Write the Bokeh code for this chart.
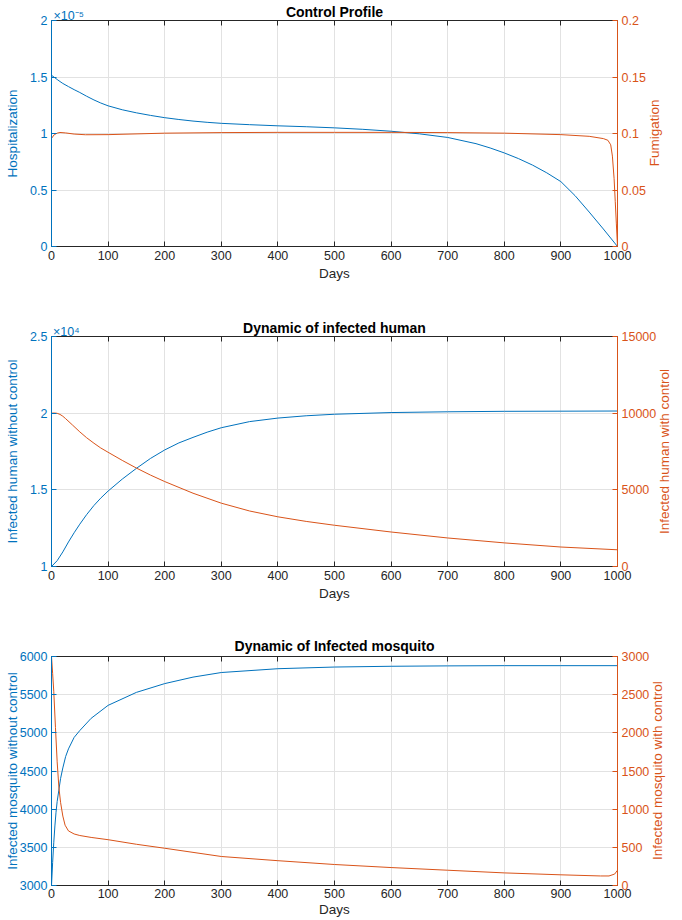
import math
from bokeh.plotting import figure
from bokeh.models import Range1d, LinearAxis, FixedTicker, CustomJSTickFormatter
from bokeh.layouts import column
from bokeh.embed import file_html
from bokeh.resources import INLINE

BLUE = "#0072BD"
ORANGE = "#D95319"
DARK = "#262626"
GRID = "#e2e2e2"
FONT = "Liberation Sans"

# ---------------- data ----------------
day_ticks = [0, 100, 200, 300, 400, 500, 600, 700, 800, 900, 1000]

# Control profile
hosp_days = [0, 5, 10, 15, 20, 30, 40, 50, 62, 75, 87, 100, 125, 150, 175, 200, 225, 250,
             275, 300, 350, 400, 450, 500, 550, 600, 650, 700, 750, 775, 800, 825, 850,
             875, 900, 925, 950, 975, 1000]
hospitalization = [1.515e-5, 1.497e-5, 1.478e-5, 1.46e-5, 1.443e-5, 1.415e-5, 1.388e-5,
                   1.363e-5, 1.33e-5, 1.297e-5, 1.27e-5, 1.245e-5, 1.21e-5, 1.183e-5,
                   1.16e-5, 1.14e-5, 1.124e-5, 1.11e-5, 1.099e-5, 1.09e-5, 1.078e-5,
                   1.068e-5, 1.06e-5, 1.05e-5, 1.037e-5, 1.02e-5, 0.997e-5, 0.965e-5,
                   0.91e-5, 0.872e-5, 0.828e-5, 0.778e-5, 0.72e-5, 0.652e-5, 0.574e-5,
                   0.45e-5, 0.305e-5, 0.155e-5, 0.0]
fum_days = [0, 5, 10, 15, 25, 40, 60, 100, 200, 300, 400, 500, 600, 700, 800, 900,
            950, 975, 983, 988, 991, 994, 996, 998, 1000]
fumigation = [0.0957, 0.099, 0.1003, 0.1009, 0.1005, 0.0995, 0.0989, 0.099, 0.1003,
              0.1008, 0.101, 0.101, 0.101, 0.1008, 0.1003, 0.099, 0.0975, 0.0955,
              0.094, 0.09, 0.08, 0.06, 0.04, 0.02, 0.0]
hosp_ticks = [0, 0.5e-5, 1e-5, 1.5e-5, 2e-5]
fum_ticks = [0, 0.05, 0.1, 0.15, 0.2]

# Infected human
ih_days = [0, 10, 20, 30, 40, 50, 62, 75, 87, 100, 125, 150, 175, 200, 225, 250, 275, 300,
           350, 400, 450, 500, 600, 700, 800, 900, 1000]
ih_no_control = [10000, 10380, 10950, 11600, 12200, 12760, 13380, 13980, 14460, 14920,
                 15700, 16400, 17050, 17600, 18060, 18420, 18760, 19050, 19450, 19680,
                 19830, 19930, 20040, 20090, 20120, 20130, 20140]
ihc_days = [0, 5, 10, 15, 20, 25, 37, 50, 62, 75, 87, 100, 125, 150, 175, 200, 250, 300,
            350, 400, 450, 500, 600, 700, 800, 900, 1000]
ih_control = [10000, 10010, 9990, 9920, 9800, 9640, 9230, 8780, 8400, 8040, 7730, 7450,
              6920, 6420, 5960, 5540, 4780, 4130, 3620, 3240, 2940, 2690, 2250, 1860,
              1540, 1270, 1090]
ih_nc_ticks = [10000, 15000, 20000, 25000]
ih_c_ticks = [0, 5000, 10000, 15000]

# Infected mosquito
im_days = [0, 2, 4, 6, 8, 10, 13, 16, 20, 25, 30, 40, 50, 70, 100, 150, 200, 250, 300,
           400, 500, 600, 700, 800, 900, 1000]
im_no_control = [3000, 3300, 3560, 3780, 3960, 4100, 4250, 4400, 4540, 4690, 4790, 4940,
                 5030, 5190, 5360, 5530, 5645, 5730, 5790, 5840, 5862, 5872, 5877, 5880,
                 5880, 5880]
imc_days = [0, 2, 4, 7, 10, 13, 16, 20, 24, 30, 40, 50, 70, 100, 150, 200, 300, 400, 500,
            600, 700, 800, 900, 970, 985, 995, 1000]
im_control = [3000, 2780, 2545, 2070, 1620, 1290, 1090, 910, 790, 715, 675, 655, 630, 600,
              540, 488, 380, 325, 275, 235, 200, 165, 140, 125, 125, 150, 200]
im_nc_ticks = [3000, 3500, 4000, 4500, 5000, 5500, 6000]
im_c_ticks = [0, 500, 1000, 1500, 2000, 2500, 3000]

# ---------------- styling ----------------
TICK_PX = 12.5
LABEL_PX = 13.5
TICK_FS = "%spx" % TICK_PX
LABEL_FS = "%spx" % LABEL_PX
BORDER_L = 51
BORDER_R = 60
FRAME_W = 682 - BORDER_L - BORDER_R
FRAME_H = 230

# Arial / Liberation Sans advance widths (per 1000 em), for centring rotated text
_W = {' ': 278, 'a': 556, 'b': 556, 'c': 500, 'd': 556, 'e': 556, 'f': 278, 'g': 556,
      'h': 556, 'i': 222, 'j': 222, 'k': 500, 'l': 222, 'm': 833, 'n': 556, 'o': 556,
      'p': 556, 'q': 556, 'r': 333, 's': 500, 't': 278, 'u': 556, 'v': 500, 'w': 722,
      'x': 500, 'y': 500, 'z': 500, 'F': 611, 'I': 278, 'H': 722, '1': 556, '0': 556,
      '\u00d7': 584}


def text_px(s, size):
    return sum(_W.get(ch, 380) for ch in s) * size / 1000.0


def fmt(scale):
    return CustomJSTickFormatter(
        code="return String(parseFloat((tick*%s).toFixed(6)));" % repr(scale))


def const_fmt(s):
    return CustomJSTickFormatter(code="return %s;" % repr(s).replace("'", '"'))


def make_panel(height, top, bottom, yl, yr, lticks, rticks, lscale, rscale,
               xd1, y1, xd2, y2, title, llabel, rlabel, lstand, rstand, expo, tstand,
               xstand=(4, 3)):
    p = figure(width=682, height=height, output_backend="svg", toolbar_location=None,
               x_range=Range1d(0, 1000), y_range=Range1d(*yl),
               min_border_left=BORDER_L, min_border_right=BORDER_R,
               min_border_top=top, min_border_bottom=bottom)
    p.outline_line_color = None
    p.background_fill_color = "white"
    p.extra_y_ranges = {"right": Range1d(*yr)}

    # grid
    p.xgrid.ticker = FixedTicker(ticks=day_ticks)
    p.ygrid.ticker = FixedTicker(ticks=lticks)
    p.xgrid.grid_line_color = GRID
    p.ygrid.grid_line_color = GRID

    # bottom axis
    xa = p.xaxis[0]
    xa.ticker = FixedTicker(ticks=day_ticks)
    xa.axis_line_color = DARK
    xa.major_tick_line_color = DARK
    xa.major_tick_in = 5
    xa.major_tick_out = 0
    xa.minor_tick_line_color = None
    xa.major_label_text_color = DARK
    xa.major_label_text_font = FONT
    xa.major_label_text_font_size = TICK_FS
    xa.major_label_standoff = xstand[0]
    xa.axis_label = "Days"
    xa.axis_label_text_font = FONT
    xa.axis_label_text_font_size = LABEL_FS
    xa.axis_label_text_font_style = "normal"
    xa.axis_label_text_color = DARK
    xa.axis_label_standoff = xstand[1]

    # top box edge with inward ticks
    ta = LinearAxis(ticker=FixedTicker(ticks=day_ticks), axis_line_color=DARK,
                    major_tick_line_color=DARK, major_tick_in=5, major_tick_out=0,
                    minor_tick_line_color=None, formatter=const_fmt(""),
                    major_label_standoff=0)
    p.add_layout(ta, "above")

    # exponent + title
    if expo:
        centre_px = 2 + text_px(expo, TICK_PX) / 2.0
        eticks = [centre_px / FRAME_W * 1000.0]
    else:
        eticks = []
    tb = LinearAxis(ticker=FixedTicker(ticks=eticks), axis_line_color=None,
                    major_tick_line_color=None, major_tick_in=0, major_tick_out=0,
                    minor_tick_line_color=None, formatter=const_fmt(expo or ""),
                    major_label_text_color=BLUE, major_label_text_font=FONT,
                    major_label_text_font_size=TICK_FS, major_label_standoff=-2,
                    axis_label=title, axis_label_text_font=FONT,
                    axis_label_text_font_size="14px", axis_label_text_font_style="bold",
                    axis_label_text_color="black", axis_label_standoff=tstand)
    p.add_layout(tb, "above")

    # left axis
    ya = p.yaxis[0]
    ya.ticker = FixedTicker(ticks=lticks)
    ya.formatter = fmt(lscale)
    ya.axis_line_color = BLUE
    ya.major_tick_line_color = BLUE
    ya.major_tick_in = 5
    ya.major_tick_out = 0
    ya.minor_tick_line_color = None
    ya.major_label_text_color = BLUE
    ya.major_label_text_font = FONT
    ya.major_label_text_font_size = TICK_FS
    ya.major_label_standoff = 4
    ya.axis_label = llabel
    ya.axis_label_text_font = FONT
    ya.axis_label_text_font_size = LABEL_FS
    ya.axis_label_text_font_style = "normal"
    ya.axis_label_text_color = BLUE
    ya.axis_label_standoff = lstand

    # right axis (ticks)
    ra = LinearAxis(y_range_name="right", ticker=FixedTicker(ticks=rticks),
                    formatter=fmt(rscale), axis_line_color=ORANGE,
                    major_tick_line_color=ORANGE, major_tick_in=5, major_tick_out=0,
                    minor_tick_line_color=None, major_label_text_color=ORANGE,
                    major_label_text_font=FONT, major_label_text_font_size=TICK_FS,
                    major_label_standoff=4)
    p.add_layout(ra, "right")

    # right axis title, reading bottom to top
    span = yr[1] - yr[0]
    start = (yr[0] + yr[1]) / 2.0 - text_px(rlabel, LABEL_PX) / 2.0 / FRAME_H * span
    rl = LinearAxis(y_range_name="right", ticker=FixedTicker(ticks=[start]),
                    formatter=const_fmt(rlabel), axis_line_color=None,
                    major_tick_line_color=None, major_tick_in=0, major_tick_out=0,
                    minor_tick_line_color=None, major_label_orientation=math.pi / 2,
                    major_label_text_color=ORANGE, major_label_text_font=FONT,
                    major_label_text_font_size=LABEL_FS, major_label_standoff=rstand)
    p.add_layout(rl, "right")

    p.line(xd1, y1, color=BLUE, line_width=1)
    p.line(xd2, y2, color=ORANGE, line_width=1, y_range_name="right")
    return p


p1 = make_panel(290, 18, 44, (0, 2e-5), (0, 0.2), hosp_ticks, fum_ticks, 1e5, 1,
                hosp_days, hospitalization, fum_days, fumigation,
                "Control Profile", "Hospitalization", "Fumigation", 7, 6,
                "\u00d710\u207b\u2075", -14)
p2 = make_panel(321, 46, 45, (10000, 25000), (0, 15000), ih_nc_ticks, ih_c_ticks, 1e-4, 1,
                ih_days, ih_no_control, ihc_days, ih_control,
                "Dynamic of infected human", "Infected human without control",
                "Infected human with control", 7, 5, "\u00d710\u2074", -14)
p3 = make_panel(308, 45, 34, (3000, 6000), (0, 3000), im_nc_ticks, im_c_ticks, 1, 1,
                im_days, im_no_control, imc_days, im_control,
                "Dynamic of Infected mosquito", "Infected mosquito without control",
                "Infected mosquito with control", -3, 5, None, 3, xstand=(3, 1))

layout = column(p1, p2, p3, spacing=0)
open("out.html", "w").write(file_html(layout, INLINE))
